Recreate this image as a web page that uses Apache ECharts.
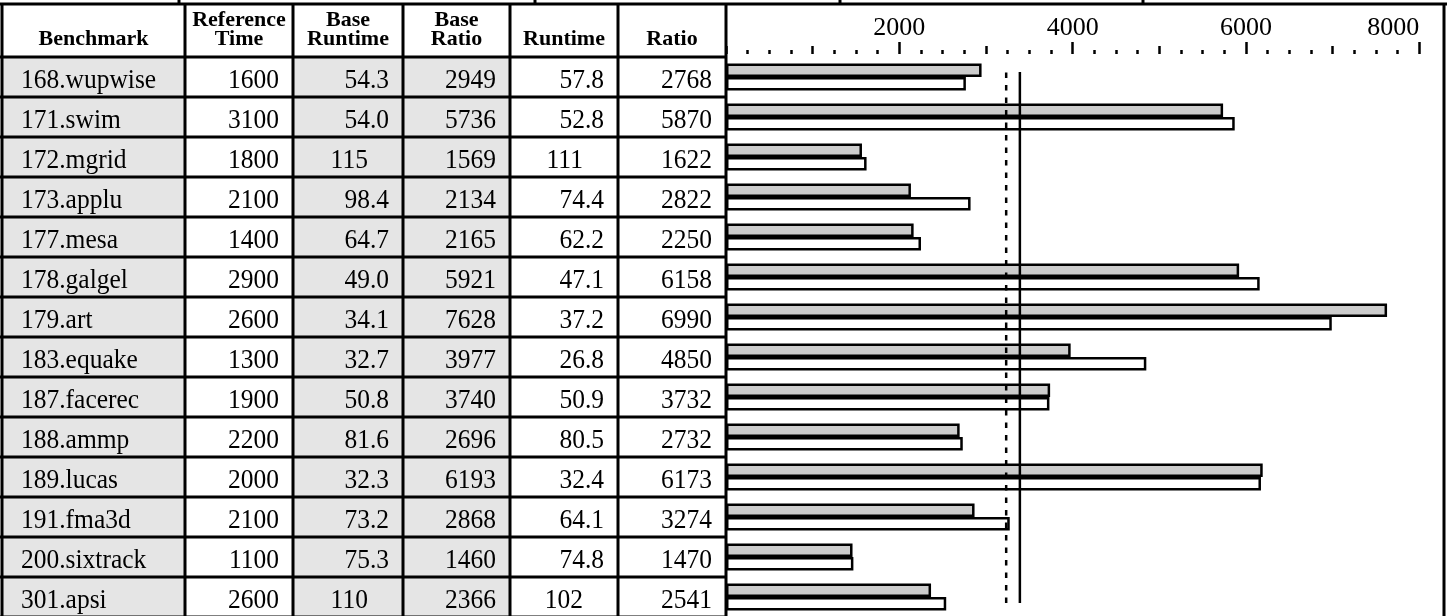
<!DOCTYPE html>
<html><head><meta charset="utf-8">
<script src="https://cdn.jsdelivr.net/npm/echarts@6/dist/echarts.min.js"></script>
<style>html,body{margin:0;padding:0;background:#fff;}#c{width:1447px;height:616px;}</style>
</head><body><div id="c"></div>
<script>
// ---- data ----
const benchmarks = ['168.wupwise','171.swim','172.mgrid','173.applu','177.mesa','178.galgel','179.art','183.equake','187.facerec','188.ammp','189.lucas','191.fma3d','200.sixtrack','301.apsi'];
const referenceTime = [1600,3100,1800,2100,1400,2900,2600,1300,1900,2200,2000,2100,1100,2600];
const baseRuntime = [54.3,54.0,115,98.4,64.7,49.0,34.1,32.7,50.8,81.6,32.3,73.2,75.3,110];
const baseRatio = [2949,5736,1569,2134,2165,5921,7628,3977,3740,2696,6193,2868,1460,2366];
const peakRuntime = [57.8,52.8,111,74.4,62.2,47.1,37.2,26.8,50.9,80.5,32.4,64.1,74.8,102];
const peakRatio = [2768,5870,1622,2822,2250,6158,6990,4850,3732,2732,6173,3274,1470,2541];
const baseMean = 3233;   // dashed line
const peakMean = 3391;   // solid line
const headers = [['Benchmark'],['Reference','Time'],['Base','Runtime'],['Base','Ratio'],['Runtime'],['Ratio']];
const xTickLabels = [2000,4000,6000,8000];

// ---- layout ----
const colX = [2,185,293,403,510,618,726];
const chartRight = 1444;
const headTop = 4, rowTop = 57, rowH = 40, nRows = benchmarks.length;
const shaded = [true,false,true,true,false,false];
const stubX = [179,535,840,1143];
const serif = '"Liberation Serif","Times New Roman",serif';
const dataFont = 28, dataScale = 0.91, pad = 14;

const ctx = document.createElement('canvas').getContext('2d');
ctx.font = dataFont + 'px ' + serif;
const decW = ctx.measureText('.0').width * dataScale + 2;

const g = [];
// backgrounds
for (let c = 0; c < 6; c++) {
  if (shaded[c]) g.push({type:'rect', z:0, shape:{x:colX[c], y:rowTop, width:colX[c+1]-colX[c], height:rowH*nRows}, style:{fill:'#e5e5e5'}});
}
const L = (x1,y1,x2,y2,w) => g.push({type:'line', z:20, shape:{x1,y1,x2,y2}, style:{stroke:'#000', lineWidth:w||3}});
L(0, headTop, 1447, headTop);
stubX.forEach(x => L(x, 0, x, headTop));
for (let i = 0; i <= nRows; i++) L(0, rowTop + i*rowH, colX[6], rowTop + i*rowH);
colX.forEach(x => L(x, headTop, x, 616));
L(chartRight, headTop, chartRight, 616);

// header text
headers.forEach((h, c) => {
  const cx = (colX[c] + colX[c+1]) / 2;
  const ys = h.length === 2 ? [20, 39] : [39];
  h.forEach((t, k) => g.push({type:'text', z:21, x:cx, y:ys[k], style:{text:t, fontFamily:serif, fontWeight:'bold', fontSize:22, fill:'#000', align:'center', verticalAlign:'middle'}}));
});

// data text
const fmtRun = v => v >= 100 ? String(v) : v.toFixed(1);
const T = (txt, x, y, align) => g.push({type:'text', z:21, x, y, scaleX:dataScale, style:{text:txt, fontFamily:serif, fontSize:dataFont, fill:'#000', align, verticalAlign:'middle'}});
benchmarks.forEach((b, i) => {
  const y = rowTop + i*rowH + 24;
  T(b, 21, y, 'left');
  T(String(referenceTime[i]), colX[2]-pad, y, 'right');
  const br = fmtRun(baseRuntime[i]);
  T(br, colX[3]-pad-(br.indexOf('.')<0?decW:0), y, 'right');
  T(String(baseRatio[i]), colX[4]-pad, y, 'right');
  const pr = fmtRun(peakRuntime[i]);
  T(pr, colX[5]-pad-(pr.indexOf('.')<0?decW:0), y, 'right');
  T(String(peakRatio[i]), colX[6]-pad, y, 'right');
});

const xMax = xTickLabels[xTickLabels.length-1];
const gridW = 1419.3 - colX[6];
const tickStyle = {color:'#000', width:2.5};
const option = {
  animation:false,
  backgroundColor:'#fff',
  graphic:{elements:g},
  grid:[
    {left:colX[6], top:rowTop, width:gridW, height:rowH*nRows, outerBoundsMode:'none'},
    {left:colX[6], top:72, width:gridW, height:531, outerBoundsMode:'none'}
  ],
  xAxis:[
    {gridIndex:0, type:'value', min:0, max:xMax, interval:2000, position:'top', offset:3,
     axisLine:{show:false}, splitLine:{show:false},
     axisTick:{show:true, length:12, lineStyle:tickStyle},
     axisLabel:{formatter:v => xTickLabels.includes(v) ? String(v) : '', fontFamily:serif, fontSize:26, color:'#000', margin:13, showMinLabel:false, alignMaxLabel:'right'}},
    {gridIndex:0, type:'value', min:0, max:xMax, interval:1000, position:'top', offset:3,
     axisLine:{show:false}, splitLine:{show:false},
     axisTick:{show:true, length:8, lineStyle:tickStyle},
     minorTick:{show:true, splitNumber:4, length:4, lineStyle:tickStyle},
     axisLabel:{show:false}},
    {gridIndex:1, type:'value', min:0, max:xMax, show:false}
  ],
  yAxis:[
    {gridIndex:0, type:'category', data:benchmarks, inverse:true, show:false},
    {gridIndex:1, type:'value', min:0, max:1, show:false}
  ],
  series:[
    {type:'bar', name:'Base', data:baseRatio, xAxisIndex:0, yAxisIndex:0, barWidth:13.5, barGap:'0%', z:3,
     itemStyle:{color:'#cccccc', borderColor:'#000', borderWidth:2.5}},
    {type:'bar', name:'Peak', data:peakRatio, xAxisIndex:0, yAxisIndex:0, barWidth:13.5, barGap:'0%', z:3,
     itemStyle:{color:'#ffffff', borderColor:'#000', borderWidth:2.5}},
    {type:'line', xAxisIndex:2, yAxisIndex:1, data:[[baseMean,0],[baseMean,1]], symbol:'none', z:5,
     lineStyle:{color:'#000', width:2.5, type:[5.5,7]}},
    {type:'line', xAxisIndex:2, yAxisIndex:1, data:[[peakMean,0],[peakMean,1]], symbol:'none', z:5,
     lineStyle:{color:'#000', width:2.5}}
  ]
};
const chart = echarts.init(document.getElementById('c'));
chart.setOption(option);
</script></body></html>
